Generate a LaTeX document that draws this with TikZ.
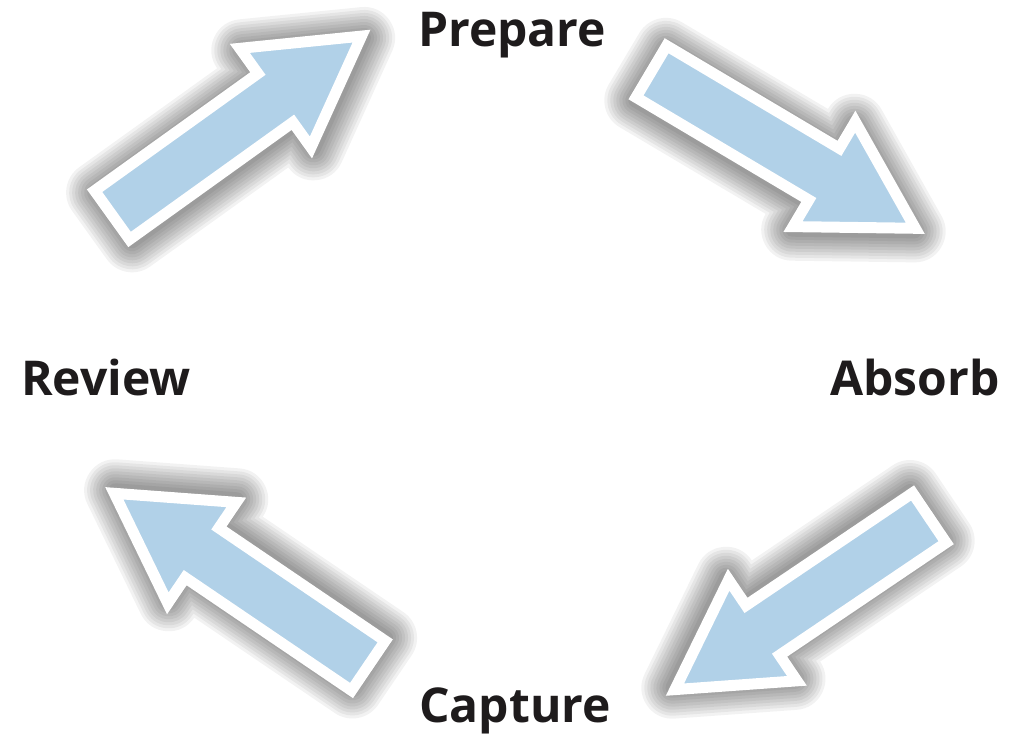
\documentclass[tikz,border=0pt]{standalone}
\usepackage{fontspec}
\setmainfont{Open Sans}
\definecolor{arrowblue}{HTML}{B1D1E8}
\definecolor{labelblack}{HTML}{1E1B1C}
\def\arrowpath{(5,30) -- (206,30) -- (206,61) -- (312,0) -- (206,-61) -- (206,-30) -- (5,-30) -- cycle}
\newcommand{\cyclearrow}[3]{%
  \begin{scope}[shift={(#1,#2)}, rotate=#3]
    \begin{scope}[shift={(1,3)}]
      \foreach \w in {62,56,...,14} {\draw[shadowline, line width=\w pt] \arrowpath;}
    \end{scope}
    \draw[arrowbody] \arrowpath;
  \end{scope}}
\begin{document}
\begin{tikzpicture}[x=1pt, y=-1pt,
  shadowline/.style={draw=black, fill=black, draw opacity=0.05, fill opacity=0, line join=round},
  arrowbody/.style={draw=white, fill=arrowblue, line width=11pt, line join=miter},
  lbl/.style={anchor=base, inner sep=0pt, text=labelblack, font=\fontsize{48}{52}\selectfont\bfseries}]
  \useasboundingbox[fill=white] (0,0) rectangle (1025,738);
  % arrows: tail centre (image px) and direction angle
  \cyclearrow{108}{218}{35.66}
  \cyclearrow{647}{69}{-30.7}
  \cyclearrow{933.5}{515}{214.03}
  \cyclearrow{372.5}{668.5}{145.84}
  % labels
  \node[lbl] (prepare) at (512,47) {Prepare};
  \node[lbl] (absorb) at (915,395) {Absorb};
  \node[lbl] (capture) at (515,722) {Capture};
  \node[lbl] (review) at (106,395) {Review};
\end{tikzpicture}
\end{document}
